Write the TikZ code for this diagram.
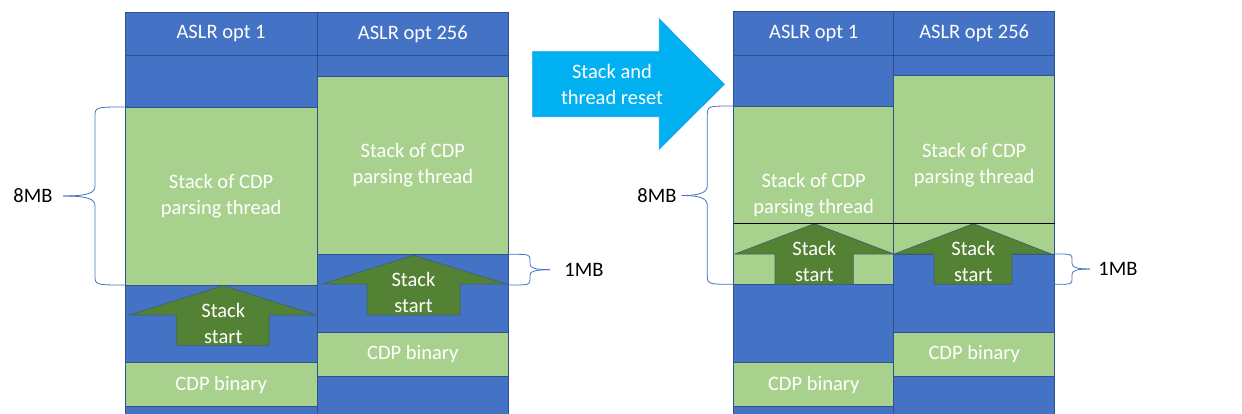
\documentclass[tikz,border=0pt]{standalone}
\usepackage{fontspec}
\setmainfont{Carlito}
\definecolor{blk}{HTML}{4472C4}
\definecolor{bord}{HTML}{2F528F}
\definecolor{lgr}{HTML}{A9D18E}
\definecolor{dgr}{HTML}{548235}
\definecolor{cy}{HTML}{00B0F0}
\newcommand{\lbl}{\fontsize{20.5}{26}\selectfont}
\tikzset{
 bcell/.style={fill=blk, draw=bord, line width=0.7pt, inner sep=0pt, outer sep=0pt, anchor=north west, text=white, font=\lbl, align=center},
 gcell/.style={bcell, fill=lgr},
 uparrow/.style={fill=dgr, draw=bord!60!dgr, line width=0.7pt},
 bigarrow/.style={fill=cy, draw=cy!80!blk, line width=0.7pt},
 wtxt/.style={text=white, font=\lbl, align=center, inner sep=0pt},
 btxt/.style={text=black, font=\lbl, inner sep=0pt},
 bracepath/.style={draw=blk, line width=0.8pt},
}
\newcommand{\cellbox}[7]{\node[#2, minimum width={#5pt-#3pt}, minimum height={#6pt-#4pt}] (#1) at (#3,#4) {#7};}
\begin{document}
\begin{tikzpicture}[x=1pt,y=-1pt]
\useasboundingbox (0,0) rectangle (1242,414);
% ---------- left diagram ----------
\cellbox{L1h}{bcell}{125.3}{12}{317}{55.7}{ASLR opt 1}
\cellbox{L1a}{bcell}{125.3}{55.7}{317}{107}{}
\cellbox{L1s}{gcell}{125.3}{107}{317}{285}{Stack of CDP\\parsing thread}
\cellbox{L1b}{bcell}{125.3}{285}{317}{362.7}{}
\cellbox{L1c}{gcell}{125.3}{362.7}{317}{406.7}{CDP binary}
\cellbox{L1d}{bcell}{125.3}{406.7}{317}{418}{}
\cellbox{L2h}{bcell}{317}{12}{508.7}{55.7}{ASLR opt 256}
\cellbox{L2a}{bcell}{317}{55.7}{508.7}{76.7}{}
\cellbox{L2s}{gcell}{317}{76.7}{508.7}{254.3}{Stack of CDP\\parsing thread}
\cellbox{L2b}{bcell}{317}{254.3}{508.7}{332.3}{}
\cellbox{L2c}{gcell}{317}{332.3}{508.7}{376}{CDP binary}
\cellbox{L2d}{bcell}{317}{376}{508.7}{418}{}
\path[uparrow] (223.3,285.7) -- (316,315) -- (269.3,315) -- (269.3,345.3) -- (176.3,345.3) -- (176.3,315) -- (129.3,315) -- cycle;
\node[wtxt] (L1t) at (223.3,323) {Stack\\start};
\path[uparrow] (413.3,255.3) -- (506.7,284) -- (460.3,284) -- (460.3,315) -- (367,315) -- (367,284) -- (322.3,284) -- cycle;
\node[wtxt] (L2t) at (413.5,292.5) {Stack\\start};
% braces left
\node[btxt] (L8) at (33,196) {8MB};
\coordinate (L8top) at (125.3,107);
\coordinate (L8bot) at (125.3,285);
\coordinate (L8tip) at (63,196);
\draw[bracepath] (L8top) .. controls (95,107) .. (95,117) -- (95,186) .. controls (95,193) and (88,196) .. (L8tip);
\draw[bracepath] (L8bot) .. controls (95,285) .. (95,275) -- (95,206) .. controls (95,199) and (88,196) .. (L8tip);
\node[btxt] (L1M) at (584,269.7) {1MB};
\coordinate (L1Mtop) at (508.7,254.3);
\coordinate (L1Mbot) at (508.7,285);
\coordinate (L1Mtip) at (550,269.7);
\draw[bracepath] (L1Mtop) .. controls (530,254.3) .. (530,260) -- (530,264) .. controls (530,268) and (535,269.7) .. (L1Mtip);
\draw[bracepath] (L1Mbot) .. controls (530,285) .. (530,279) -- (530,275) .. controls (530,271.4) and (535,269.7) .. (L1Mtip);
% ---------- big arrow ----------
\path[bigarrow] (532.7,51.7) -- (659.3,51.7) -- (659.3,19) -- (724.3,84.3) -- (659.3,149) -- (659.3,116.7) -- (532.7,116.7) -- cycle;
\node[wtxt] (reset) at (612,84) {Stack and\\thread reset};
% ---------- right diagram ----------
\cellbox{R1h}{bcell}{733.7}{11.7}{893.7}{55.7}{ASLR opt 1}
\cellbox{R1a}{bcell}{733.7}{55.7}{893.7}{106}{}
\cellbox{R1s}{gcell}{733.7}{106}{893.7}{284.3}{Stack of CDP\\parsing thread}
\cellbox{R1b}{bcell}{733.7}{284.3}{893.7}{362.7}{}
\cellbox{R1c}{gcell}{733.7}{362.7}{893.7}{406.7}{CDP binary}
\cellbox{R1d}{bcell}{733.7}{406.7}{893.7}{418}{}
\cellbox{R2h}{bcell}{893.7}{11.7}{1054.7}{55.7}{ASLR opt 256}
\cellbox{R2a}{bcell}{893.7}{55.7}{1054.7}{75.7}{}
\cellbox{R2s}{gcell}{893.7}{75.7}{1054.7}{254}{Stack of CDP\\parsing thread}
\cellbox{R2b}{bcell}{893.7}{254}{1054.7}{332.3}{}
\cellbox{R2c}{gcell}{893.7}{332.3}{1054.7}{376}{CDP binary}
\cellbox{R2d}{bcell}{893.7}{376}{1054.7}{418}{}
\path[uparrow] (814.3,223.7) -- (893.7,254) -- (853.3,254) -- (853.3,284.3) -- (775,284.3) -- (775,254) -- (735,254) -- cycle;
\node[wtxt] (R1t) at (814.3,261.5) {Stack\\start};
\path[uparrow] (973.3,223.7) -- (1051.3,254) -- (1012,254) -- (1012,284.3) -- (934,284.3) -- (934,254) -- (894.3,254) -- cycle;
\node[wtxt] (R2t) at (973.3,261.5) {Stack\\start};
\coordinate (lineL) at (733.7,223.7);
\coordinate (lineR) at (1054.7,223.7);
\draw[black, line width=1.3pt] (lineL) -- (lineR);
% braces right
\node[btxt] (R8) at (657,196) {8MB};
\coordinate (R8top) at (733.7,106);
\coordinate (R8bot) at (733.7,284.3);
\coordinate (R8tip) at (681.7,195.5);
\draw[bracepath] (R8top) .. controls (707.3,106) .. (707.3,116) -- (707.3,185.5) .. controls (707.3,192.5) and (700.3,195.5) .. (R8tip);
\draw[bracepath] (R8bot) .. controls (707.3,284.3) .. (707.3,274.3) -- (707.3,205.5) .. controls (707.3,198.5) and (700.3,195.5) .. (R8tip);
\node[btxt] (R1M) at (1118,269) {1MB};
\coordinate (R1Mtop) at (1054.7,254);
\coordinate (R1Mbot) at (1054.7,284.3);
\coordinate (R1Mtip) at (1090,269);
\draw[bracepath] (R1Mtop) .. controls (1072,254) .. (1072,259.5) -- (1072,263.5) .. controls (1072,267.5) and (1077,269) .. (R1Mtip);
\draw[bracepath] (R1Mbot) .. controls (1072,284.3) .. (1072,278.8) -- (1072,274.5) .. controls (1072,270.5) and (1077,269) .. (R1Mtip);
\end{tikzpicture}
\end{document}
